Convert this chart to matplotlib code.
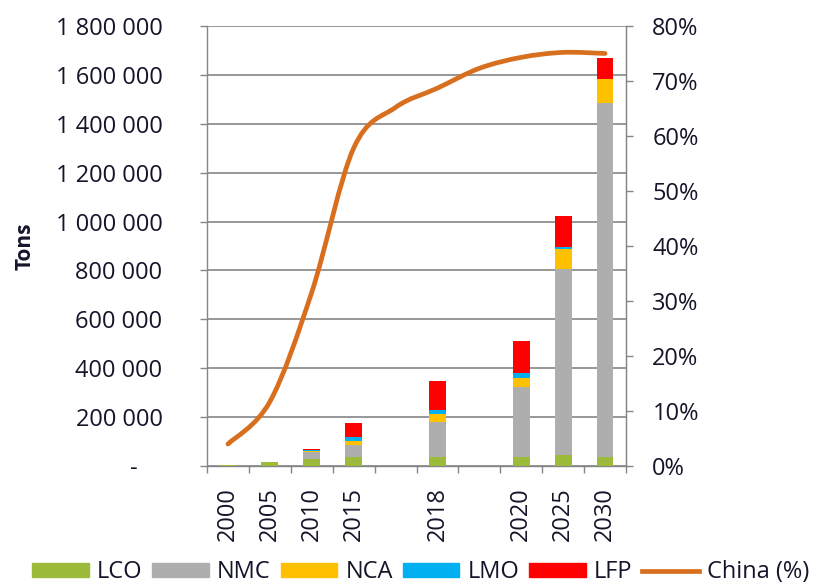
import matplotlib

matplotlib.use("Agg")
import matplotlib.pyplot as plt
import numpy as np
from matplotlib.patches import Patch, PathPatch
from matplotlib.lines import Line2D
from matplotlib.path import Path
from matplotlib.ticker import FuncFormatter, MultipleLocator, FixedLocator

# ── data (tons per chemistry, China share %) ─────────────────────────────────
years = ["2000", "2005", "2010", "2015", "", "2018", "", "2020", "2025", "2030"]
lco = [5000, 17000, 27000, 38000, 0, 35000, 0, 38000, 45000, 38000]
nmc = [0, 0, 30000, 50000, 0, 146000, 0, 284000, 763000, 1445000]
nca = [0, 0, 4000, 15000, 0, 31000, 0, 40000, 78000, 102000]
lmo = [0, 0, 5000, 16000, 0, 19000, 0, 18000, 8000, 0]
lfp = [0, 0, 4000, 57000, 0, 116000, 0, 130000, 128000, 85000]
china = [4, 11.7, 31.6, 57.8, 65.2, 68.7, 72.3, 74.3, 75.2, 75]

SERIES = [
    ("LCO", lco, "#9DBB3A"),
    ("NMC", nmc, "#AEAEAE"),
    ("NCA", nca, "#FFC000"),
    ("LMO", lmo, "#00B0F0"),
    ("LFP", lfp, "#FF0000"),
]
LINE_COLOR = "#D86F1E"
TXT = "#15152a"
GRID = "#858585"

plt.rcParams.update({
    "font.family": ["Open Sans", "DejaVu Sans"],
    "font.size": 17,
})


def smooth_path(x, y):
    """Excel-style smoothed line as cubic Bezier segments."""
    pts = np.column_stack([x, y]).astype(float)
    n = len(pts)
    verts = [pts[0]]
    codes = [Path.MOVETO]
    for i in range(n - 1):
        p0 = pts[i - 1] if i > 0 else pts[i]
        p1, p2 = pts[i], pts[i + 1]
        p3 = pts[i + 2] if i + 2 < n else pts[i + 1]
        verts += [p1 + (p2 - p0) / 6, p2 - (p3 - p1) / 6, p2]
        codes += [Path.CURVE4] * 3
    return Path(verts, codes)


fig = plt.figure(figsize=(8.17, 5.84), dpi=100)
ax = fig.add_axes([0.2534, 0.202, 0.5128, 0.7535])
x = np.arange(len(years))

bottom = np.zeros(len(years))
for name, vals, color in SERIES:
    v = np.asarray(vals, dtype=float)
    ax.bar(x, v, 0.4, bottom=bottom, color=color, lw=0, zorder=3, label=name)
    bottom += v

ax.set_xlim(-0.5, len(years) - 0.5)
ax.set_ylim(0, 1_800_000)
ax.yaxis.set_major_locator(MultipleLocator(200_000))
ax.yaxis.set_major_formatter(FuncFormatter(
    lambda v, _: "-    " if v == 0 else f"{int(v):,}".replace(",", " ")))
ax.grid(True, axis="y", color=GRID, lw=1.2, zorder=0)
ax.set_axisbelow(True)

ax.set_xticks(x)
ax.set_xticklabels(years, rotation=90)
ax.xaxis.set_minor_locator(FixedLocator(np.arange(-0.5, len(years), 1.0)))
ax.tick_params(axis="x", which="major", length=0, pad=15, colors=TXT)
ax.tick_params(axis="x", which="minor", length=5, width=1, color=GRID)
ax.tick_params(axis="y", length=5, width=1, color=GRID, pad=27, labelcolor=TXT)
ax.spines["top"].set_visible(False)
for s in ("left", "bottom", "right"):
    ax.spines[s].set_color(GRID)
    ax.spines[s].set_linewidth(1.0)
ax.set_ylabel("Tons", fontweight="bold", color=TXT, fontsize=15)
ax.yaxis.set_label_coords(-0.41, 0.5)

ax2 = ax.twinx()
ax2.set_ylim(0, 80)
ax2.yaxis.set_major_locator(MultipleLocator(10))
ax2.yaxis.set_major_formatter(FuncFormatter(lambda v, _: f"{int(v)}%"))
ax2.tick_params(axis="y", length=5, width=1, color=GRID, pad=14, labelcolor=TXT)
for s in ("top", "left", "bottom"):
    ax2.spines[s].set_visible(False)
ax2.spines["right"].set_color(GRID)
ax2.add_patch(PathPatch(smooth_path(x, china), fill=False, ec=LINE_COLOR,
                        lw=3.4, capstyle="round", zorder=5))

handles = [Patch(color=c, label=n) for n, _, c in SERIES]
handles.append(Line2D([], [], color=LINE_COLOR, lw=3.4, label="China (%)"))
fig.legend(handles=handles, loc="center", bbox_to_anchor=(0.515, 0.02),
           ncol=6, frameon=False, handlelength=2.4, handleheight=0.57,
           handletextpad=0.34, columnspacing=0.42, fontsize=17,
           labelcolor=TXT, borderaxespad=0, borderpad=0)

fig.savefig("out.png", dpi=100)
